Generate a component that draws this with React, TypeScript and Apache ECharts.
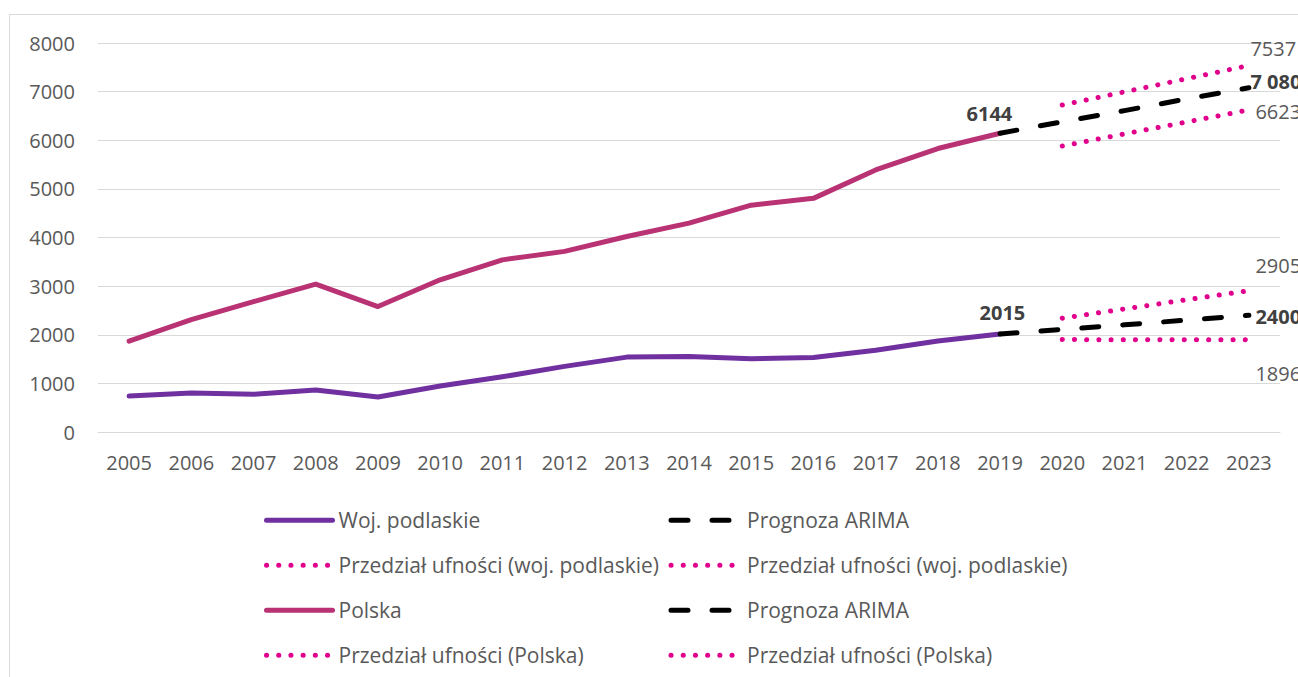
import React, { useEffect, useRef } from 'react';
import * as echarts from 'echarts';

// ---------- data ----------
const years: string[] = [
  '2005', '2006', '2007', '2008', '2009', '2010', '2011', '2012', '2013', '2014',
  '2015', '2016', '2017', '2018', '2019', '2020', '2021', '2022', '2023',
];
// observed 2005–2019
const podlaskie: number[] = [740, 800, 775, 865, 720, 945, 1135, 1350, 1540, 1555, 1505, 1530, 1680, 1870, 2015];
const polska: number[] = [1870, 2310, 2680, 3040, 2580, 3130, 3540, 3715, 4020, 4295, 4665, 4805, 5390, 5830, 6144];
// ARIMA forecast 2019–2023
const arimaPodlaskie: number[] = [2015, 2110, 2205, 2300, 2400];
const arimaPolska: number[] = [6144, 6380, 6610, 6850, 7080];
// confidence intervals 2020–2023
const ciPodlaskieUpper: number[] = [2340, 2530, 2720, 2905];
const ciPodlaskieLower: number[] = [1900, 1899, 1897, 1896];
const ciPolskaUpper: number[] = [6725, 6995, 7265, 7537];
const ciPolskaLower: number[] = [5880, 6130, 6375, 6623];

const yMin = 0;
const yMax = 8000;
const yStep = 1000;

const NAME_POD = 'Woj. podlaskie';
const NAME_PL = 'Polska';
const NAME_ARIMA = 'Prognoza ARIMA';
const NAME_CI_POD = 'Przedział ufności (woj. podlaskie)';
const NAME_CI_PL = 'Przedział ufności (Polska)';

// ---------- styles ----------
const FONT = "'Open Sans', sans-serif";
const TXT = '#595959';
const TXT_BOLD = '#404040';
const C_POD = '#7030A0';
const C_PL = '#B83274';
const C_CI = '#E0008C';
const C_ARIMA = '#000000';
const GRID_C = '#D9D9D9';

const place = (start: number, vals: number[]) =>
  years.map((_, i) => (i >= start && i < start + vals.length ? vals[i - start] : null));

const idx2019 = years.indexOf('2019');
const idx2020 = years.indexOf('2020');
const idx2023 = years.indexOf('2023');

function withLabel(arr: any[], index: number, label: any) {
  const out = arr.slice();
  out[index] = {
    value: arr[index],
    symbol: 'circle',
    symbolSize: 2,
    itemStyle: { color: 'transparent', borderColor: 'transparent' },
    label: {
      show: true,
      position: 'right',
      distance: 0,
      fontFamily: FONT,
      fontSize: 20,
      color: TXT,
      ...label,
    },
  };
  return out;
}

const solid = (color: string) => ({ color, width: 5, type: 'solid', cap: 'round', join: 'round' });
const dashed = { color: C_ARIMA, width: 5, type: [17, 24], cap: 'round', join: 'round' };
const dotted = { color: C_CI, width: 5, type: [0.1, 12.1], cap: 'round', join: 'round' };

function buildOption() {
  const base = { type: 'line', symbol: 'none', silent: true, connectNulls: false };
  const series: any[] = [
    {
      ...base,
      name: NAME_POD,
      lineStyle: solid(C_POD),
      itemStyle: { color: C_POD },
      data: withLabel(place(0, podlaskie), idx2019, {
        formatter: '2015', fontWeight: 'bold', color: TXT_BOLD, offset: [-22, -22],
      }),
      z: 3,
    },
    {
      ...base,
      name: NAME_ARIMA,
      lineStyle: dashed,
      itemStyle: { color: C_ARIMA },
      data: withLabel(place(idx2019, arimaPodlaskie), idx2023, {
        formatter: '2400', fontWeight: 'bold', color: TXT_BOLD, offset: [5, 1],
      }),
      z: 4,
    },
    {
      ...base,
      name: NAME_CI_POD,
      lineStyle: dotted,
      itemStyle: { color: C_CI },
      data: withLabel(place(idx2020, ciPodlaskieUpper), idx2023, { formatter: '2905', offset: [5, -25] }),
      z: 2,
    },
    {
      ...base,
      name: NAME_CI_POD,
      lineStyle: dotted,
      itemStyle: { color: C_CI },
      data: withLabel(place(idx2020, ciPodlaskieLower), idx2023, { formatter: '1896', offset: [5, 34] }),
      z: 2,
    },
    {
      ...base,
      name: NAME_PL,
      lineStyle: solid(C_PL),
      itemStyle: { color: C_PL },
      data: withLabel(place(0, polska), idx2019, {
        formatter: '6144', fontWeight: 'bold', color: TXT_BOLD, offset: [-35, -20],
      }),
      z: 3,
    },
    {
      ...base,
      name: NAME_ARIMA,
      lineStyle: dashed,
      itemStyle: { color: C_ARIMA },
      data: withLabel(place(idx2019, arimaPolska), idx2023, {
        formatter: '7 080', fontWeight: 'bold', color: TXT_BOLD, offset: [0, -6],
      }),
      z: 4,
    },
    {
      ...base,
      name: NAME_CI_PL,
      lineStyle: dotted,
      itemStyle: { color: C_CI },
      data: withLabel(place(idx2020, ciPolskaUpper), idx2023, { formatter: '7537', offset: [0, -17] }),
      z: 2,
    },
    {
      ...base,
      name: NAME_CI_PL,
      lineStyle: dotted,
      itemStyle: { color: C_CI },
      data: withLabel(place(idx2020, ciPolskaLower), idx2023, { formatter: '6623', offset: [5, 2] }),
      z: 2,
    },
  ];

  const legendCols = [256, 660.5];
  const legendPad = [1, 5];
  const legendRows = [501.7, 546.7, 591.7, 636.7];
  const legendItems = [
    [NAME_POD, NAME_ARIMA],
    [NAME_CI_POD, NAME_CI_POD],
    [NAME_PL, NAME_ARIMA],
    [NAME_CI_PL, NAME_CI_PL],
  ];
  const legends: any[] = [];
  legendItems.forEach((row, r) =>
    row.forEach((name, c) => {
      legends.push({
        show: true,
        left: legendCols[c],
        top: legendRows[r],
        padding: 0,
        itemWidth: 66,
        itemHeight: 14,
        itemGap: 0,
        selectedMode: false,
        data: [name],
        lineStyle: { width: 5 },
        itemStyle: { color: 'transparent', borderColor: 'transparent', borderWidth: 0 },
        textStyle: { fontFamily: FONT, fontSize: 21, color: TXT, padding: [0, 0, 0, legendPad[c]] },
      });
    })
  );

  return {
    animation: false,
    backgroundColor: '#ffffff',
    textStyle: { fontFamily: FONT },
    grid: { left: 90, right: 18, top: 35, bottom: 245, containLabel: false },
    xAxis: {
      type: 'category',
      data: years,
      boundaryGap: true,
      axisLine: { show: true, lineStyle: { color: GRID_C, width: 1 } },
      axisTick: { show: false },
      axisLabel: { color: TXT, fontFamily: FONT, fontSize: 20, margin: 20, interval: 0 },
      splitLine: { show: false },
    },
    yAxis: {
      type: 'value',
      min: yMin,
      max: yMax,
      interval: yStep,
      axisLine: { show: false },
      axisTick: { show: false },
      axisLabel: {
        color: TXT,
        fontFamily: FONT,
        fontSize: 20,
        margin: 23,
        formatter: (v: number) => String(v),
      },
      splitLine: { show: true, lineStyle: { color: GRID_C, width: 1 } },
    },
    legend: legends,
    graphic: [
      {
        type: 'rect',
        silent: true,
        shape: { x: 1.5, y: 6.5, width: 3000, height: 3000 },
        style: { fill: 'none', stroke: GRID_C, lineWidth: 1 },
        z: -1,
      },
    ],
    series,
  };
}

export default function App() {
  const ref = useRef<HTMLDivElement>(null);
  useEffect(() => {
    if (!ref.current) return;
    const chart = echarts.init(ref.current, undefined, { renderer: 'svg' });
    chart.setOption(buildOption() as any);
    return () => chart.dispose();
  }, []);
  return (
    <div
      ref={ref}
      style={{ position: 'absolute', left: 8, top: 8, width: 1290, height: 669 }}
    />
  );
}
